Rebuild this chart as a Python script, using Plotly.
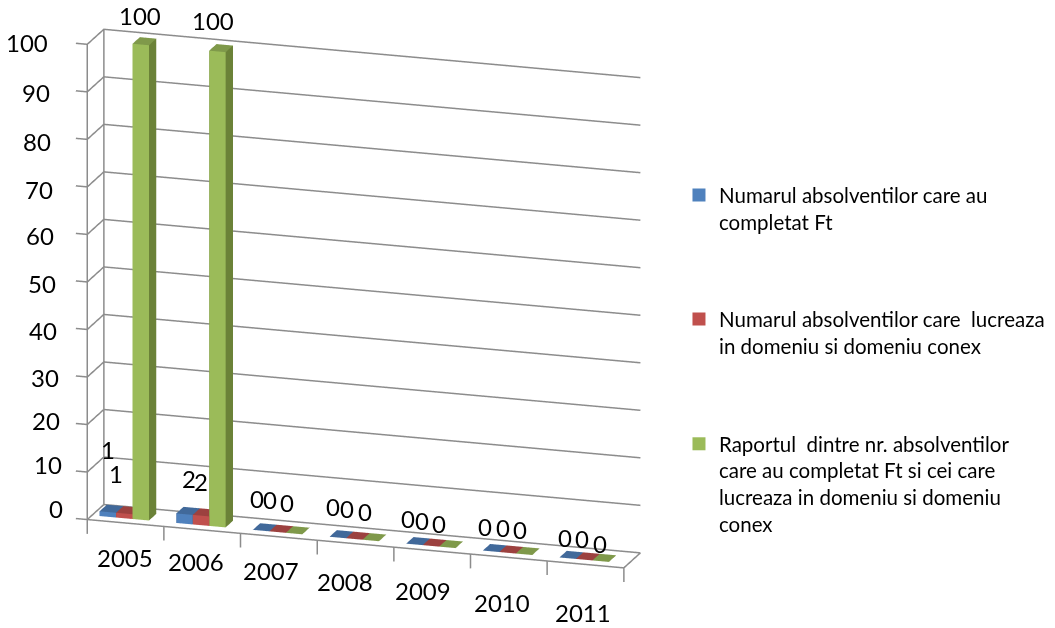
import plotly.graph_objects as go
import math

years = ["2005", "2006", "2007", "2008", "2009", "2010", "2011"]
completat = [1, 2, 0, 0, 0, 0, 0]
lucreaza = [1, 2, 0, 0, 0, 0, 0]
raport = [100, 100, 0, 0, 0, 0, 0]
z_ticks = [0, 10, 20, 30, 40, 50, 60, 70, 80, 90, 100]
series_lines = [
    ["Numarul absolventilor care au", "completat Ft"],
    ["Numarul absolventilor care  lucreaza", "in domeniu si domeniu conex"],
    ["Raportul  dintre nr. absolventilor", "care au completat Ft si cei care", "lucreaza in domeniu si domeniu", "conex"],
]
# label placement nudges (pixels), per category then per series
value_nudge = [
    [(8, 10), (-17, 35), (-1, 0)],
    [(4, 7), (0, 5), (-5, 2)],
    [(-4, 3), (-8, 4), (-7, 2)],
    [(-5, 2), (-7, 1), (-6, 0)],
    [(-7, -3), (-9, -4), (-9, -5)],
    [(-6, -4), (-5, -4), (-4, -4)],
    [(-3, -8), (-2, -8), (-1, -11)],
]
year_nudge = [(-0.5, 5), (-6.5, 8), (-7.4, 6), (-10, 2), (-9, -1), (-7, -6), (-2, -9)]
ztick_nudge_y = [10, 7, 3, -1, -2, -2, -2, -3, -3, -1, 1]

front = ["#4F81BD", "#C0504D", "#9BBB59"]
side = ["#3A608E", "#8F3B39", "#6B8238"]
topc = ["#41699A", "#9C413F", "#7F994A"]
FONT = "Lato"
GREY = "#8C8C8C"
GAP, BW = 0.10, 0.215
Y0, Y1 = 0.28, 0.72
XTICK, ZTICK = 0.15, 3  # tick lengths in axis units
PADX, PADY, PADZ = 0.05, 0.02, 1  # keeps the outermost lines off the clipping planes

def bar(x0, x1, h, f, s, t):
    xs = [x0, x1, x1, x0, x0, x1, x1, x0]
    ys = [Y0, Y0, Y1, Y1, Y0, Y0, Y1, Y1]
    zs = [0, 0, 0, 0, h, h, h, h]
    i = [0, 0, 1, 1, 4, 4, 3, 3, 0, 0]
    j = [1, 5, 2, 6, 5, 6, 7, 6, 3, 7]
    k = [5, 4, 6, 5, 6, 7, 6, 2, 7, 4]
    fc = [f, f, s, s, t, t, s, s, s, s]
    return xs, ys, zs, i, j, k, fc

fig = go.Figure()
ann = []
n_cat = len(years)

gx, gy, gz = [], [], []
for z in z_ticks:
    gx += [-XTICK, 0, 0, n_cat, None]; gy += [0, 0, 1, 1, None]; gz += [z, z, z, z, None]
for c in range(n_cat + 1):
    gx += [c, c, None]; gy += [0, 0, None]; gz += [0, -ZTICK, None]
gx += [n_cat, n_cat, None, 0, n_cat]; gy += [0, 1, None, 0, 0]; gz += [0, 0, None, 0, 0]
gx += [None, 0, 0, None, 0, 0]; gy += [None, 0, 0, None, 1, 1]; gz += [None, -ZTICK, 100, None, 0, 100]
fig.add_trace(go.Scatter3d(x=gx, y=gy, z=gz, mode="lines", line=dict(color=GREY, width=3),
                           showlegend=False, hoverinfo="skip"))

for si, vals in enumerate([completat, lucreaza, raport]):
    X, Y, Z, I, J, K, FC = [], [], [], [], [], [], []
    for ci, v in enumerate(vals):
        x0 = ci + GAP + si * BW
        xs, ys, zs, i, j, k, fc = bar(x0, x0 + BW, v, front[si], side[si], topc[si])
        n = len(X)
        X += xs; Y += ys; Z += zs
        I += [a + n for a in i]; J += [a + n for a in j]; K += [a + n for a in k]
        FC += fc
        dx, dy = value_nudge[ci][si]
        ann.append(dict(x=x0 + BW / 2, y=0.3, z=v, text=str(v), showarrow=False, xshift=dx, yshift=28 + dy,
                        font=dict(family=FONT, size=24, color="#000000")))
    fig.add_trace(go.Mesh3d(x=X, y=Y, z=Z, i=I, j=J, k=K, facecolor=FC, flatshading=True,
                            lighting=dict(ambient=1, diffuse=0, specular=0, fresnel=0),
                            hoverinfo="skip", showlegend=False))
    nblank = len(series_lines[si]) - 1
    lines = [s.replace("  ", "\u00a0 ") for s in series_lines[si]]
    name = "<br>".join(["\u00a0"] * nblank + lines)
    lg = "legend" if si == 0 else f"legend{si + 1}"
    fig.add_trace(go.Scatter3d(x=[None], y=[None], z=[None], mode="markers", name=name,
                               legend=lg, showlegend=True,
                               marker=dict(symbol="square", size=13, color=front[si])))
for ci, y in enumerate(years):
    dx, dy = year_nudge[ci]
    ann.append(dict(x=ci + 0.5, y=0, z=0, text=y, showarrow=False, xshift=dx, yshift=-40 + dy,
                    font=dict(family=FONT, size=24, color="#000000")))
for t, dy in zip(z_ticks, ztick_nudge_y):
    ann.append(dict(x=0, y=0, z=t, text=str(t), showarrow=False, xanchor="right",
                    xshift=-37 + 15 * (100 - t) / 100, yshift=dy,
                    font=dict(family=FONT, size=24, color="#000000")))

th, p = math.radians(17.5), math.radians(16.6)
D = 4
eye = dict(x=D * math.sin(th) * math.cos(p), y=-D * math.cos(th) * math.cos(p), z=D * math.sin(p))
axcommon = dict(title="", showbackground=False, zeroline=False, showspikes=False, showgrid=False,
                showline=False, showticklabels=False, ticks="", tickvals=[])
leg = lambda yc: dict(x=0.636, y=yc, xanchor="left", yanchor="middle",
                      font=dict(family=FONT, size=20.5, color="#000000"), bgcolor="rgba(0,0,0,0)")
fig.update_layout(
    width=1055, height=628, paper_bgcolor="white", margin=dict(l=0, r=0, t=0, b=0),
    font=dict(family=FONT, size=20, color="#000000"),
    scene=dict(
        domain=dict(x=[0, 0.667], y=[0.0696, 0.9927]),
        aspectmode="manual",
        aspectratio=dict(x=1.94 * (n_cat + XTICK + PADX) / n_cat, y=0.19 * (1 + 2 * PADY),
                         z=1.71 * (100 + ZTICK + PADZ) / 100),
        camera=dict(eye=eye, projection=dict(type="orthographic"), up=dict(x=0, y=0, z=1)),
        xaxis=dict(axcommon, range=[-XTICK, n_cat + PADX]),
        yaxis=dict(axcommon, range=[-PADY, 1 + PADY]),
        zaxis=dict(axcommon, range=[-ZTICK, 100 + PADZ]),
        annotations=ann,
    ),
    legend=leg(1 - 187 / 628), legend2=leg(1 - 311 / 628), legend3=leg(1 - 436 / 628),
)
fig.write_html("out.html")
